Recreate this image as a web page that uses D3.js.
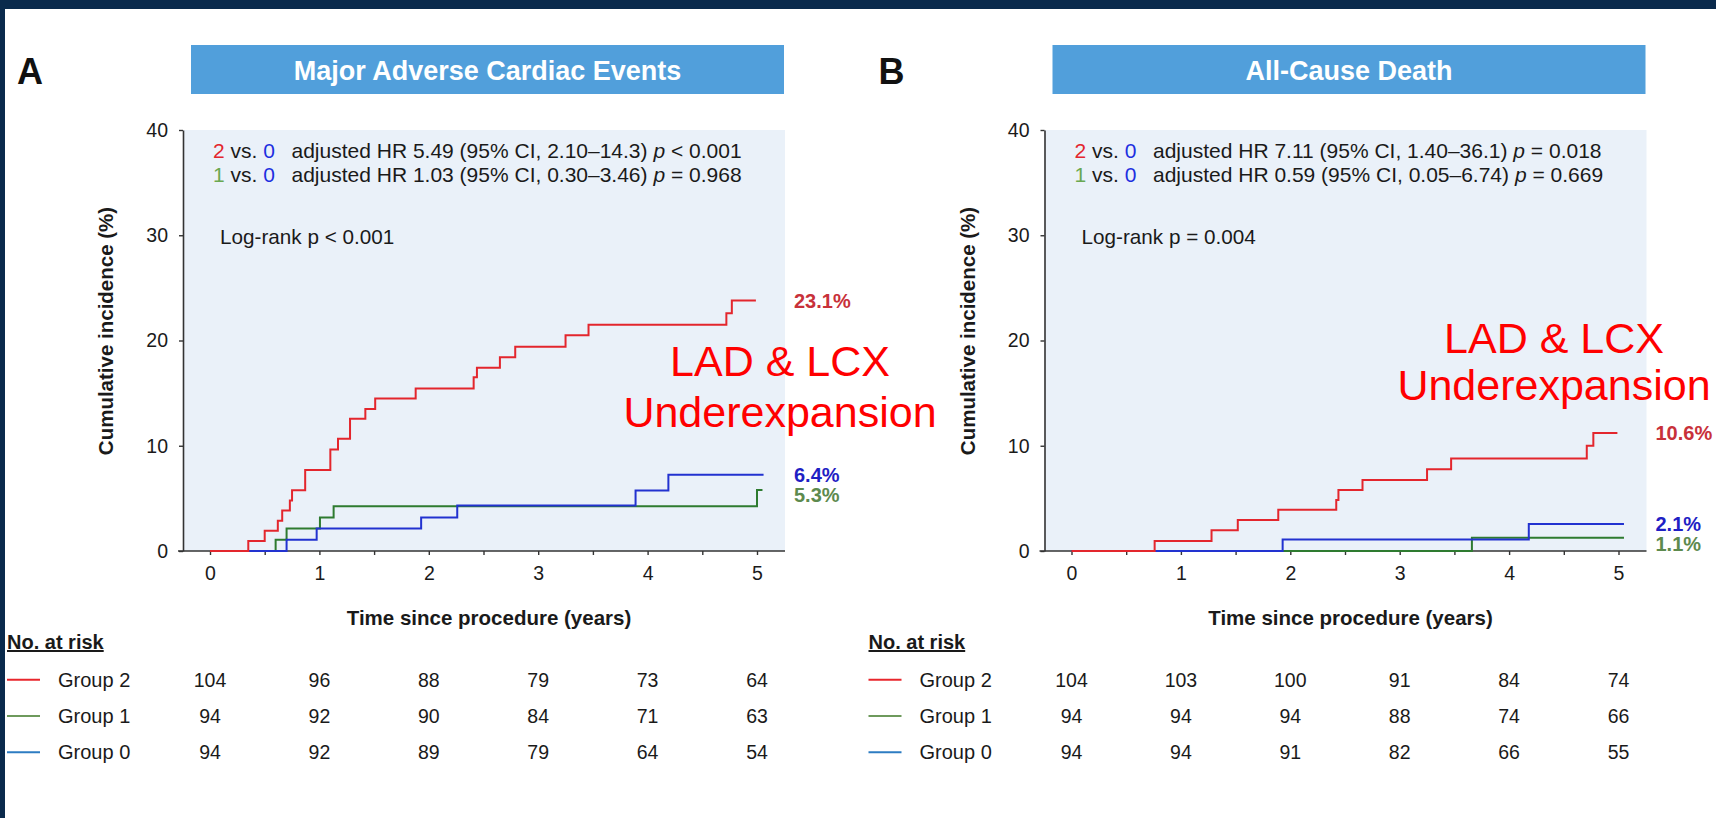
<!DOCTYPE html>
<html>
<head>
<meta charset="utf-8">
<script src="https://cdn.jsdelivr.net/npm/d3@7"></script>
<style>
  body { margin: 0; background: #fff; }
  svg { display: block; font-family: "Liberation Sans", Arial, Helvetica, sans-serif; }
</style>
</head>
<body>
<div id="main"></div>
<script>
// ---- data ----
var years = [0, 1, 2, 3, 4, 5];
var halfYears = [0, 0.5, 1, 1.5, 2, 2.5, 3, 3.5, 4, 4.5, 5];
var yTicks = [0, 10, 20, 30, 40];
var groupNames = ["Group 2", "Group 1", "Group 0"];

// [years, cumulative incidence %]
var maceGroup2 = [[0,0],[0.35,0.96],[0.50,1.92],[0.62,2.88],[0.66,3.85],[0.73,4.81],[0.75,5.77],[0.87,7.7],
  [1.10,9.65],[1.17,10.66],[1.28,12.56],[1.42,13.5],[1.51,14.5],[1.88,15.45],[2.41,16.5],[2.44,17.4],
  [2.65,18.4],[2.79,19.4],[3.25,20.5],[3.46,21.5],[4.72,22.6],[4.77,23.8],[4.99,23.8]];
var maceGroup1 = [[0,0],[0.60,1.06],[0.70,2.13],[1.005,3.19],[1.13,4.26],[5.0,5.8],[5.05,5.8]];
var maceGroup0 = [[0,0],[0.70,1.06],[0.975,2.13],[1.93,3.19],[2.26,4.33],[3.89,5.75],[4.19,7.25],[5.06,7.25]];

var deathGroup2 = [[0,0],[0.76,0.96],[1.28,1.96],[1.52,2.94],[1.89,3.92],[2.42,4.84],[2.44,5.79],[2.66,6.74],
  [3.25,7.76],[3.47,8.8],[4.71,10.0],[4.77,11.2],[4.99,11.2]];
var deathGroup1 = [[0,0],[3.66,1.27],[5.05,1.27]];
var deathGroup0 = [[0,0],[1.93,1.1],[4.18,2.56],[5.05,2.56]];

var maceAtRisk2 = [104, 96, 88, 79, 73, 64];
var maceAtRisk1 = [94, 92, 90, 84, 71, 63];
var maceAtRisk0 = [94, 92, 89, 79, 64, 54];
var deathAtRisk2 = [104, 103, 100, 91, 84, 74];
var deathAtRisk1 = [94, 94, 94, 88, 74, 66];
var deathAtRisk0 = [94, 94, 91, 82, 66, 55];

var maceFinal = ["23.1%", "5.3%", "6.4%"];
var deathFinal = ["10.6%", "1.1%", "2.1%"];

var maceHR = ["adjusted HR 5.49 (95% CI, 2.10\u201314.3) ", "adjusted HR 1.03 (95% CI, 0.30\u20133.46) "];
var maceP = [" < 0.001", " = 0.968"];
var deathHR = ["adjusted HR 7.11 (95% CI, 1.40\u201336.1) ", "adjusted HR 0.59 (95% CI, 0.05\u20136.74) "];
var deathP = [" = 0.018", " = 0.669"];

// ---- styles ----
var curveColors = ["#e3262d", "#2e7b30", "#2232d0"];   // group 2, 1, 0
var labelColors = ["#c8313a", "#5d8a4e", "#1f1fc4"];
var legendColors = ["#e8262c", "#6e9a5c", "#2d7cc2"];
var numColors = {"2": "#e3262d", "1": "#6aa851", "0": "#1d2fe0"};
var ink = "#1a1a1a";

function transform(x, y) {
  return "translate(" + x + "," + y + ")";
}

var svg = d3.select('#main').append('svg')
  .attr('width', 1716).attr('height', 818);

// slide frame
svg.append('rect').attr('width', 1716).attr('height', 818).attr('fill', '#0a2a4c');
svg.append('rect').attr('x', 5).attr('y', 9).attr('width', 1711).attr('height', 809).attr('fill', '#fff');

var drawPanel = function(p) {
  var g = svg.append('g').attr('transform', transform(p.dx, 0));
  var x = d3.scaleLinear().domain([0, 5]).range([210, 757]);
  var y = d3.scaleLinear().domain([0, 40]).range([551, 130]);

  g.append('text').text(p.letter)
    .attr('x', 17).attr('y', 84)
    .attr('font-size', 36).attr('font-weight', 'bold').attr('fill', '#111');

  g.append('rect').attr('x', 191).attr('y', 45).attr('width', 593).attr('height', 49)
    .attr('fill', '#519fdb');
  g.append('text').text(p.title)
    .attr('x', 487.5).attr('y', 79.5).attr('text-anchor', 'middle')
    .attr('font-size', 27).attr('font-weight', 'bold').attr('fill', '#fff');

  // plot background
  g.append('rect').attr('x', 183).attr('y', y(40))
    .attr('width', 602).attr('height', y(0) - y(40))
    .attr('fill', '#eaf1f9');

  // axes
  var yAxis = g.append('g').attr('transform', transform(183, 0))
    .call(d3.axisLeft(y).tickValues(yTicks).tickSize(4).tickSizeOuter(0).tickPadding(11));
  var xAxis = g.append('g').attr('transform', transform(0, y(0)))
    .call(d3.axisBottom(x).tickValues(halfYears).tickSize(4).tickSizeOuter(0).tickPadding(11)
      .tickFormat(function(d) { return Number.isInteger(d) ? d : ""; }));
  xAxis.select('.domain').remove();
  g.append('line').attr('x1', 178).attr('x2', 785).attr('y1', y(0)).attr('y2', y(0))
    .attr('stroke', '#333').attr('stroke-width', 1.6);
  [yAxis, xAxis].forEach(function(a) {
    a.selectAll('line').attr('stroke', '#333').attr('stroke-width', 1.4);
    a.select('.domain').attr('stroke', '#333').attr('stroke-width', 1.6);
    a.selectAll('text').attr('font-size', 19.5).attr('fill', ink)
      .attr('font-family', '"Liberation Sans", Arial, sans-serif');
  });

  // step curves: green, blue, then red on top
  var line = d3.line()
    .x(function(d) { return x(d[0]); })
    .y(function(d) { return y(d[1]); })
    .curve(d3.curveStepAfter);
  [1, 2, 0].forEach(function(i) {
    g.append('path').datum(p.curves[i])
      .attr('d', line)
      .attr('fill', 'none')
      .attr('stroke', curveColors[i])
      .attr('stroke-width', 2);
  });

  // end-of-curve labels, lower pair pushed apart
  var lastY = p.curves.map(function(c) { return y(c[c.length - 1][1]); });
  var upper = lastY[2] < lastY[1] ? 2 : 1, lower = 3 - upper;
  lastY[lower] = Math.max(lastY[lower], lastY[upper] + 20);
  p.finals.forEach(function(t, i) {
    g.append('text').text(t)
      .attr('x', x(5) + 37).attr('y', lastY[i]).attr('dy', '0.36em')
      .attr('font-size', 20).attr('font-weight', 'bold')
      .attr('fill', labelColors[i]);
  });

  // hazard ratio annotations
  [["2", "0"], ["1", "0"]].forEach(function(pair, i) {
    var t = g.append('text').attr('x', 213).attr('y', 158 + i * 24)
      .attr('font-size', 21).attr('fill', ink);
    t.append('tspan').text(pair[0]).attr('fill', numColors[pair[0]]);
    t.append('tspan').text(' vs. ');
    t.append('tspan').text(pair[1]).attr('fill', numColors[pair[1]]);
    t.append('tspan').attr('x', 291.5).text(p.hr[i]);
    t.append('tspan').text('p').attr('font-style', 'italic');
    t.append('tspan').text(p.pv[i]);
  });
  g.append('text').text(p.logrank)
    .attr('x', 220).attr('y', 243.5)
    .attr('font-size', 20.7).attr('fill', ink);

  // axis titles
  g.append('text').text('Cumulative incidence (%)')
    .attr('transform', transform(113, 331) + ' rotate(-90)')
    .attr('text-anchor', 'middle')
    .attr('font-size', 20.5).attr('font-weight', 'bold').attr('fill', ink);
  g.append('text').text('Time since procedure (years)')
    .attr('x', 489).attr('y', 625).attr('text-anchor', 'middle')
    .attr('font-size', 20.5).attr('font-weight', 'bold').attr('fill', ink);

  // red overlay text
  g.append('text').attr('text-anchor', 'middle')
    .attr('font-size', 43).attr('fill', '#ff0000')
    .selectAll('tspan').data(['LAD & LCX', 'Underexpansion'])
    .enter().append('tspan')
      .attr('x', p.note[0])
      .attr('y', function(d, i) { return p.note[1] + i * p.note[2]; })
      .text(function(d) { return d; });

  // number at risk
  g.append('text').text('No. at risk')
    .attr('x', 7).attr('y', 649)
    .attr('font-size', 20).attr('font-weight', 'bold').attr('fill', ink)
    .attr('text-decoration', 'underline');
  var rows = g.selectAll('g.risk').data(p.atRisk)
    .enter().append('g').attr('class', 'risk')
      .attr('transform', function(d, i) { return transform(0, 686.7 + i * 36.3); });
  rows.append('line')
    .attr('x1', 7).attr('x2', 40).attr('y1', -7).attr('y2', -7)
    .attr('stroke', function(d, i) { return legendColors[i]; })
    .attr('stroke-width', 2);
  rows.append('text')
    .text(function(d, i) { return groupNames[i]; })
    .attr('x', 58).attr('font-size', 20).attr('fill', ink);
  rows.selectAll('text.n').data(function(d) { return d; })
    .enter().append('text').attr('class', 'n')
      .attr('x', function(d, j) { return x(years[j]); })
      .attr('text-anchor', 'middle')
      .attr('font-size', 19.5).attr('fill', ink)
      .text(function(d) { return d; });
};

drawPanel({
  dx: 0, letter: 'A', title: 'Major Adverse Cardiac Events',
  curves: [maceGroup2, maceGroup1, maceGroup0],
  finals: maceFinal, hr: maceHR, pv: maceP,
  logrank: 'Log-rank p < 0.001',
  atRisk: [maceAtRisk2, maceAtRisk1, maceAtRisk0],
  note: [780, 376, 51]
});

drawPanel({
  dx: 861.5, letter: 'B', title: 'All-Cause Death',
  curves: [deathGroup2, deathGroup1, deathGroup0],
  finals: deathFinal, hr: deathHR, pv: deathP,
  logrank: 'Log-rank p = 0.004',
  atRisk: [deathAtRisk2, deathAtRisk1, deathAtRisk0],
  note: [692.5, 353, 47]
});
</script>
</body>
</html>
